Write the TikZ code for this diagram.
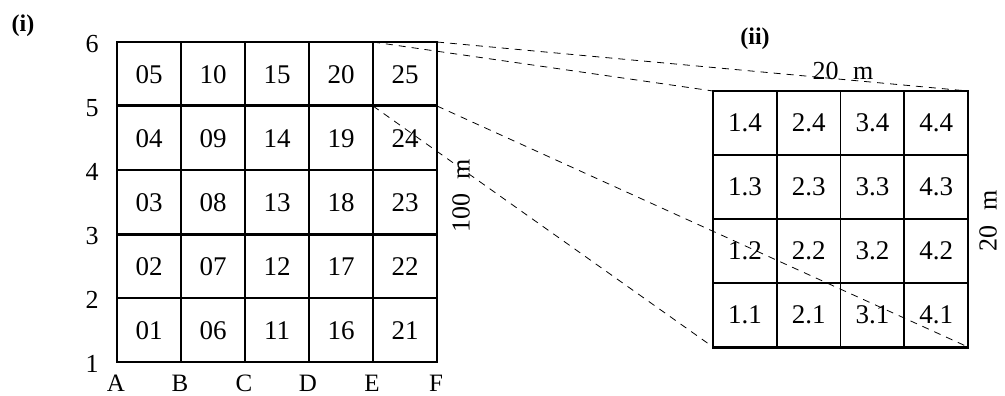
\documentclass[tikz,border=0pt]{standalone}
\usepackage{fontspec}
\setmainfont{Liberation Serif}
\begin{document}
\begin{tikzpicture}[x=1pt,y=-1pt,
  cell/.style={font=\fontsize{27}{31}\selectfont, inner sep=0pt},
  axislab/.style={font=\fontsize{26}{30}\selectfont, inner sep=0pt},
  partlab/.style={font=\fontsize{24}{28}\selectfont\bfseries, inner sep=0pt},
  sizelab/.style={font=\fontsize{26}{30}\selectfont, inner sep=0pt},
  gridline/.style={line width=1.8pt},
  heavy/.style={line width=3pt},
  zoomline/.style={dash pattern=on 7pt off 6pt, line width=0.8pt}]
\useasboundingbox (0,0) rectangle (1005,396);

% ---------- grid (i) ----------
\foreach \i in {0,...,5} {
  \draw[gridline] (117+64*\i,42) -- (117+64*\i,362);
}
\foreach \j in {42,170,298,362} {
  \draw[gridline] (116,\j) -- (438,\j);
}
\foreach \j in {106,234} {
  \draw[heavy] (116,\j) -- (438,\j);
}
\foreach \i in {0,...,4} {
  \foreach \j in {0,...,4} {
    \pgfmathtruncatemacro{\n}{5*\i+\j+1}
    \ifnum\n<10
      \node[cell] (c\n) at (149+64*\i,331-64*\j) {0\n};
    \else
      \node[cell] (c\n) at (149+64*\i,331-64*\j) {\n};
    \fi
  }
}
% row and column labels
\foreach \k in {1,...,6} {
  \node[axislab] (r\k) at (92,364-64*\k+64) {\k};
}
\foreach \L [count=\c from 0] in {A,B,C,D,E,F} {
  \node[axislab, font=\fontsize{25}{29}\selectfont] (col\L) at (116+64*\c,383) {\L};
}
\node[partlab] (p1) at (23,26) {(i)};
\node[sizelab, rotate=90] (len100) at (461,196) {100\hspace{0.55em}m};

% named corners of the zoomed cell
\coordinate (E6) at (373,42);
\coordinate (F6) at (437,42);
\coordinate (E5) at (373,106);
\coordinate (F5) at (437,106);

% ---------- grid (ii) ----------
\foreach \i in {0,...,4} {
  \draw[gridline] (713+63.75*\i,91) -- (713+63.75*\i,347);
}
\foreach \j in {91,155,219,283} {
  \draw[gridline] (712,\j) -- (969,\j);
}
\draw[heavy] (712,347) -- (969,347);
\foreach \i in {1,...,4} {
  \foreach \j in {1,...,4} {
    \node[cell] (d\i\j) at (745+63.75*\i-63.75,315-64*\j+64) {\i.\j};
  }
}
\coordinate (TL) at (713,91);
\coordinate (TR) at (968,91);
\coordinate (BL) at (713,347);
\coordinate (BR) at (968,347);

\node[partlab] (p2) at (755,39) {(ii)};
\node[sizelab] (top20) at (843,71) {20\hspace{0.55em}m};
\node[sizelab, rotate=90] (side20) at (988,221) {20\hspace{0.55em}m};

% ---------- zoom connectors ----------
\draw[zoomline] (E6) -- (TL);
\draw[zoomline] (F6) -- (TR);
\draw[zoomline] (E5) -- (BL);
\draw[zoomline] (F5) -- (BR);
\end{tikzpicture}
\end{document}
